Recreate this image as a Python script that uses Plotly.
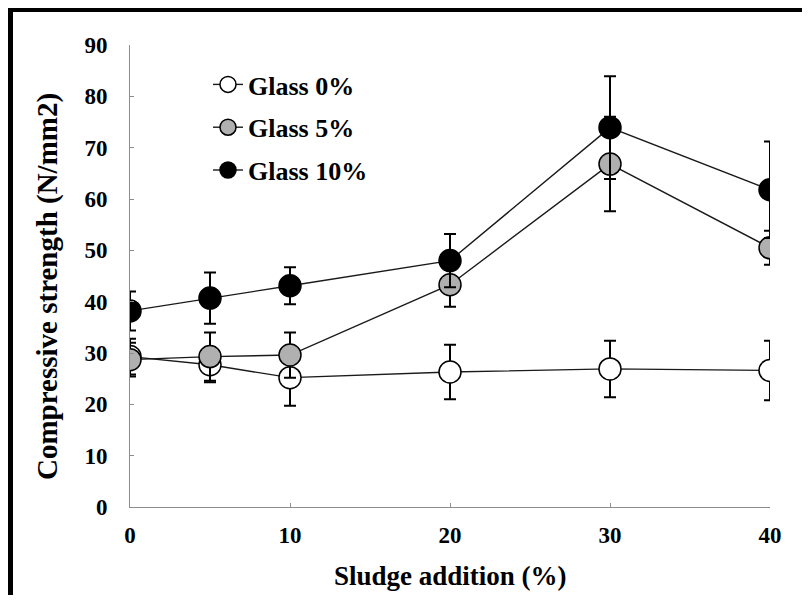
import plotly.graph_objects as go

sludge = [0, 5, 10, 20, 30, 40]
series_names = ["Glass 0%", "Glass 5%", "Glass 10%"]
glass0 = [29.3, 27.7, 25.2, 26.3, 26.9, 26.6]
glass0_err = [3.5, 3.4, 5.5, 5.3, 5.5, 5.8]
glass5 = [28.7, 29.3, 29.6, 43.3, 66.8, 50.5]
glass5_err = [3.3, 4.7, 4.4, 4.3, 9.2, 3.3]
glass10 = [38.2, 40.7, 43.1, 48.0, 73.9, 61.8]
glass10_err = [3.8, 5.0, 3.6, 5.2, 10.0, 9.4]
x_ticks = [0, 10, 20, 30, 40]
y_ticks = [0, 10, 20, 30, 40, 50, 60, 70, 80, 90]

fills = ["#ffffff", "#b0b0b0", "#000000"]
values = [glass0, glass5, glass10]
errors = [glass0_err, glass5_err, glass10_err]

FONT = "Liberation Serif"

fig = go.Figure()
for i, (name, ys, es, fc) in enumerate(zip(series_names, values, errors, fills)):
    fig.add_trace(go.Scatter(
        x=sludge, y=ys, name=name, mode="lines+markers",
        legendgroup=f"g{i}",
        line=dict(color="#1a1a1a", width=1.4),
        marker=dict(size=22, color=fc, line=dict(color="#000000", width=1.5)),
        error_y=dict(type="data", array=es, visible=True, color="#000000",
                     thickness=2, width=6),
    ))

# page has an 8px body margin; work in screen pixels and convert
OFF = 8
W, H = 794, 587
L, R, T, B = 130 - OFF, 794 - (770 - OFF), 45 - OFF, 587 - (507 - OFF)
pw, ph = W - L - R, H - T - B

def px(x):
    return (x - OFF - L) / pw

def py(y):
    return (H - B - (y - OFF)) / ph

fig.update_layout(
    width=W, height=H,
    margin=dict(l=L, r=R, t=T, b=B, autoexpand=False),
    paper_bgcolor="white", plot_bgcolor="white",
    showlegend=True,
    legend=dict(
        x=px(208), y=py(61), xanchor="left", yanchor="top",
        bgcolor="rgba(0,0,0,0)", borderwidth=0,
        traceorder="grouped", tracegroupgap=6,
        font=dict(family=FONT, size=26, color="black", weight="bold"),
    ),
    xaxis=dict(
        range=[0, 40], tickvals=x_ticks, ticktext=[str(v) for v in x_ticks],
        showgrid=False, zeroline=False, showline=True,
        linecolor="#8c8c8c", linewidth=1,
        ticks="inside", ticklen=4, tickcolor="#8c8c8c",
        ticklabelstandoff=7,
        tickfont=dict(family=FONT, size=23, color="black", weight="bold"),
    ),
    yaxis=dict(
        range=[0, 90], tickvals=y_ticks, ticktext=[str(v) for v in y_ticks],
        showgrid=False, zeroline=False, showline=True,
        linecolor="#8c8c8c", linewidth=1,
        ticks="inside", ticklen=4, tickcolor="#8c8c8c",
        ticklabelstandoff=17,
        tickfont=dict(family=FONT, size=23, color="black", weight="bold"),
    ),
    annotations=[
        dict(text="Sludge addition (%)", xref="paper", yref="paper",
             x=px(450), y=py(576), xanchor="center", yanchor="middle",
             showarrow=False,
             font=dict(family=FONT, size=27, color="black", weight="bold")),
        dict(text="Compressive strength (N/mm2)", xref="paper", yref="paper",
             x=px(47), y=py(287), xanchor="center", yanchor="middle",
             textangle=-90, showarrow=False,
             font=dict(family=FONT, size=29, color="black", weight="bold")),
    ],
    shapes=[
        dict(type="rect", xref="paper", yref="paper",
             x0=px(OFF), x1=px(13), y0=py(H + OFF + 10), y1=py(OFF),
             fillcolor="black", line=dict(width=0), layer="above"),
        dict(type="rect", xref="paper", yref="paper",
             x0=px(OFF), x1=px(W + OFF + 10), y0=py(12), y1=py(OFF),
             fillcolor="black", line=dict(width=0), layer="above"),
    ],
)

fig.write_html("out.html")
